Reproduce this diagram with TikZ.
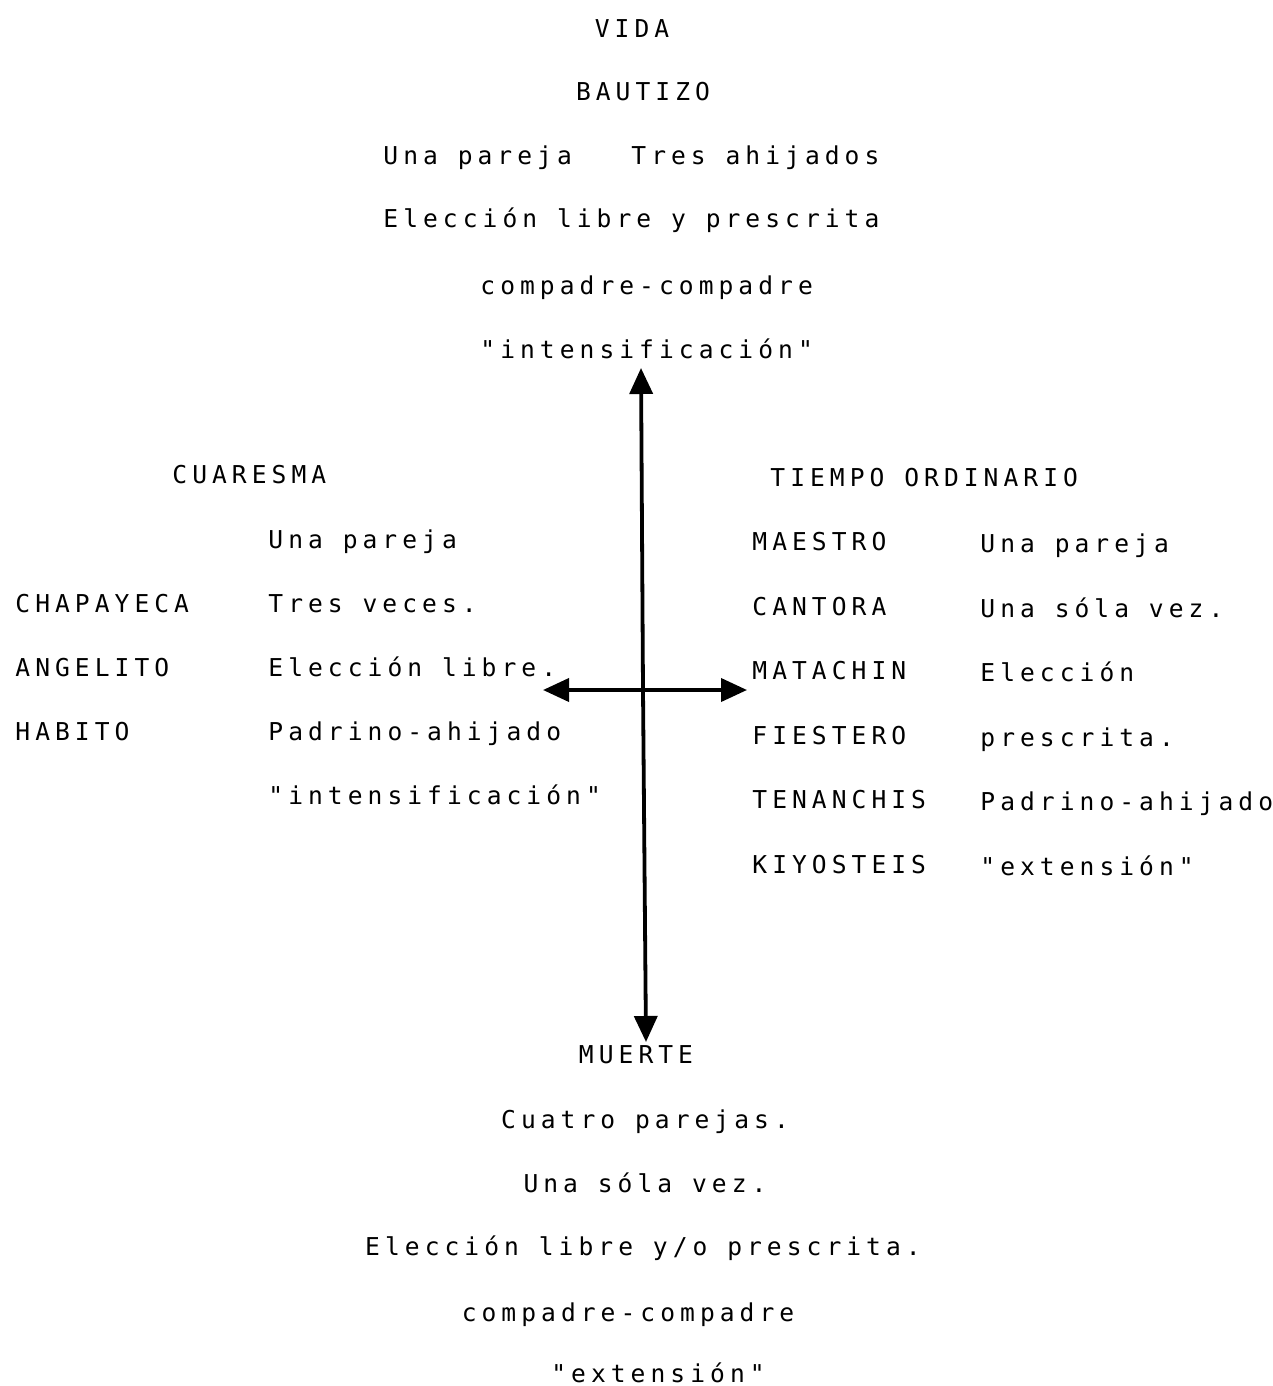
\documentclass[tikz,border=0pt]{standalone}
\usepackage{fontspec}
\setmonofont[LetterSpace=20.5]{DejaVu Sans Mono}
\usetikzlibrary{arrows.meta}
\tikzset{
	texto/.style={inner sep=0pt, font=\ttfamily\fontsize{12.3}{14}\selectfont, anchor=mid west, yshift=-2pt},
	titulo/.style={texto, anchor=mid},
	eje/.style={line width=1.9pt, -{Triangle[length=13pt, width=11.5pt]}}
}
\begin{document}
\begin{tikzpicture}[x=0.5pt, y=-0.5pt]
			\useasboundingbox (0, 0) rectangle (1273, 1386);
			% parte superior
			\node[titulo] (vida) at (632, 29) {VIDA};
			\node[titulo] (bautizo) at (643, 92) {BAUTIZO};
			\node[texto] (bau1) at (383, 156) {Una pareja \ \ Tres ahijados};
			\node[texto] (bau2) at (383, 219) {Elección libre y prescrita};
			\node[texto] (bau3) at (480, 286) {compadre-compadre};
			\node[texto] (bau4) at (480, 350) {"intensificación"};
			% cuaresma
			\node[texto] (cuaresma) at (172, 475) {CUARESMA};
			\foreach \txt [count=\k] in {Una pareja, Tres veces., Elección libre., Padrino-ahijado, "intensificación"}
				\node[texto] (cua\k) at (268, 476 + 64*\k) {\txt};
			\foreach \txt [count=\k] in {CHAPAYECA, ANGELITO, HABITO}
				\node[texto] (cual\k) at (15, 540 + 64*\k) {\txt};
			% tiempo ordinario
			\node[texto] (ordinario) at (770, 478) {TIEMPO ORDINARIO};
			\foreach \txt [count=\k] in {MAESTRO, CANTORA, MATACHIN, FIESTERO, TENANCHIS, KIYOSTEIS}
				\node[texto] (ordl\k) at (752, 478 + 64.5*\k) {\txt};
			\foreach \txt [count=\k] in {Una pareja, Una sóla vez., Elección, prescrita., Padrino-ahijado, "extensión"}
				\node[texto] (ord\k) at (980, 480 + 64.5*\k) {\txt};
			% parte inferior
			\node[titulo] (muerte) at (636, 1055) {MUERTE};
			\node[titulo] (mue1) at (645, 1120) {Cuatro parejas.};
			\node[titulo] (mue2) at (645, 1184) {Una sóla vez.};
			\node[titulo] (mue3) at (643, 1247) {Elección libre y/o prescrita.};
			\node[titulo] (mue4) at (628, 1313) {compadre-compadre};
			\node[titulo] (mue5) at (658, 1374) {"extensión"};
			% ejes
			\coordinate (centro) at (643, 690);
			\coordinate (arriba) at (641, 368);
			\coordinate (abajo) at (646, 1042);
			\coordinate (izq) at (543, 690);
			\coordinate (der) at (747, 690);
			\draw[eje] (centro) -- (arriba);
			\draw[eje] (centro) -- (abajo);
			\draw[eje] (centro) -- (izq);
			\draw[eje] (centro) -- (der);
		\end{tikzpicture}
\end{document}
